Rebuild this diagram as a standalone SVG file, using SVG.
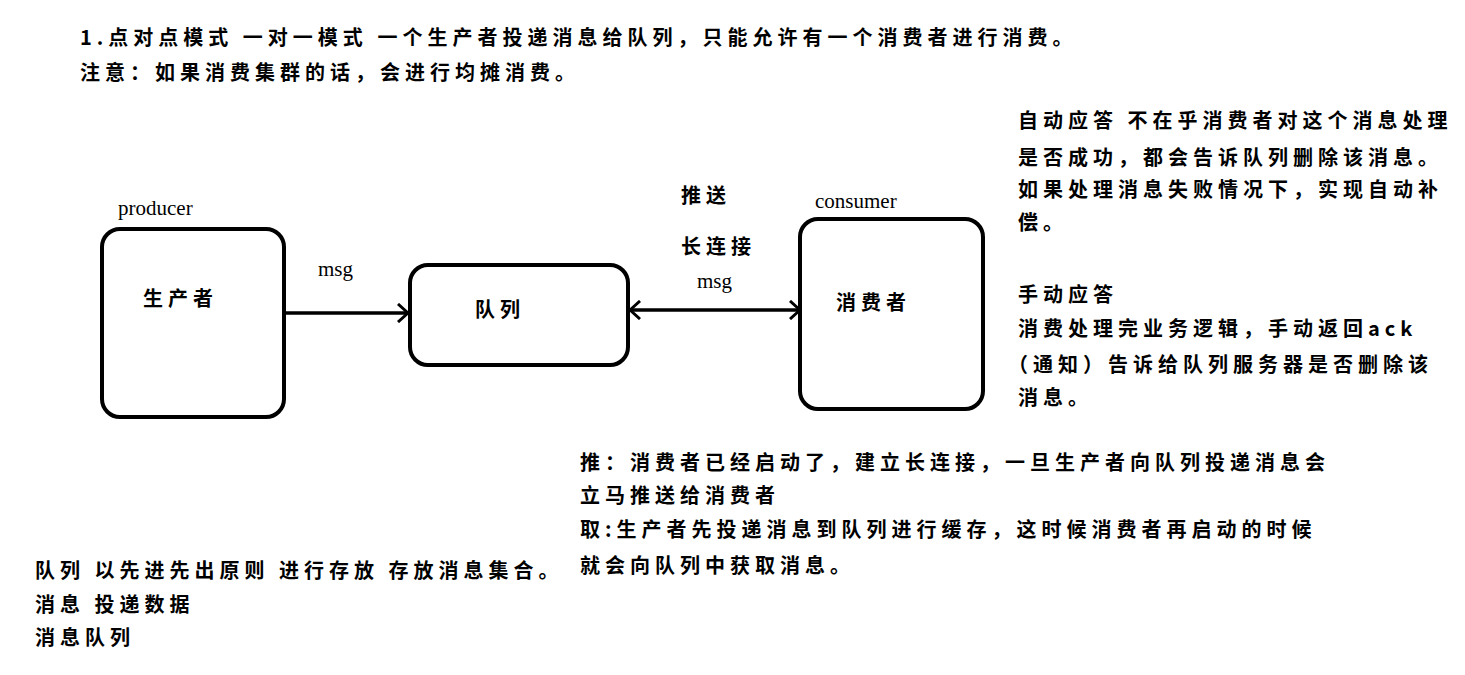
<svg xmlns="http://www.w3.org/2000/svg" width="1465" height="675" viewBox="0 0 1465 675">
<style>
.t{font-family:"Noto Sans CJK SC","Liberation Serif",serif;font-size:20px;font-weight:bold;letter-spacing:5px;fill:#000}
.e{font-family:"Liberation Serif",serif;font-size:21px;fill:#000}
.b{fill:#fff;stroke:#000;stroke-width:4}
.c{stroke:#000;stroke-width:3.5;fill:none}
</style>
<defs>
<marker id="a" viewBox="0 0 12 20" refX="11" refY="10" markerWidth="12" markerHeight="20" markerUnits="userSpaceOnUse" orient="auto-start-reverse"><path d="M1,1 L11,10 L1,19" fill="none" stroke="#000" stroke-width="3"/></marker>
</defs>
<rect width="1465" height="675" fill="#fff"/>
<text class="t" x="80" y="45">1.点对点模式 一对一模式 一个生产者投递消息给队列，只能允许有一个消费者进行消费。</text>
<text class="t" x="80" y="80">注意：如果消费集群的话，会进行均摊消费。</text>
<g id="producer"><rect class="b" x="102" y="229" width="182" height="188" rx="18"/><text class="e" x="118" y="215">producer</text><text class="t" x="143" y="306">生产者</text></g>
<g id="queue"><rect class="b" x="410" y="265" width="218" height="100" rx="18"/><text class="t" x="475" y="317">队列</text></g>
<g id="consumer"><rect class="b" x="800" y="219" width="183" height="190" rx="18"/><text class="e" x="815" y="208">consumer</text><text class="t" x="836" y="310">消费者</text></g>
<g id="connectors">
<line class="c" x1="286" y1="313" x2="408" y2="313" marker-end="url(#a)"/>
<line class="c" x1="630" y1="310" x2="800" y2="310" marker-start="url(#a)" marker-end="url(#a)"/>
<text class="e" x="318" y="276">msg</text>
<text class="t" x="681" y="203">推送</text>
<text class="t" x="681" y="254">长连接</text>
<text class="e" x="697" y="288">msg</text>
</g>
<g id="notes">
<text class="t" x="1018" y="128">自动应答 不在乎消费者对这个消息处理</text>
<text class="t" x="1018" y="165">是否成功，都会告诉队列删除该消息。</text>
<text class="t" x="1018" y="197">如果处理消息失败情况下，实现自动补</text>
<text class="t" x="1018" y="230">偿。</text>
<text class="t" x="1018" y="302">手动应答</text>
<text class="t" x="1018" y="336">消费处理完业务逻辑，手动返回ack</text>
<text class="t" x="1008" y="372">（通知）告诉给队列服务器是否删除该</text>
<text class="t" x="1018" y="405">消息。</text>
<text class="t" x="580" y="470">推：消费者已经启动了，建立长连接，一旦生产者向队列投递消息会</text>
<text class="t" x="580" y="503">立马推送给消费者</text>
<text class="t" x="580" y="537">取:生产者先投递消息到队列进行缓存，这时候消费者再启动的时候</text>
<text class="t" x="580" y="573">就会向队列中获取消息。</text>
<text class="t" x="35" y="578">队列 以先进先出原则 进行存放 存放消息集合。</text>
<text class="t" x="35" y="612">消息 投递数据</text>
<text class="t" x="35" y="645">消息队列</text>
</g>
</svg>
